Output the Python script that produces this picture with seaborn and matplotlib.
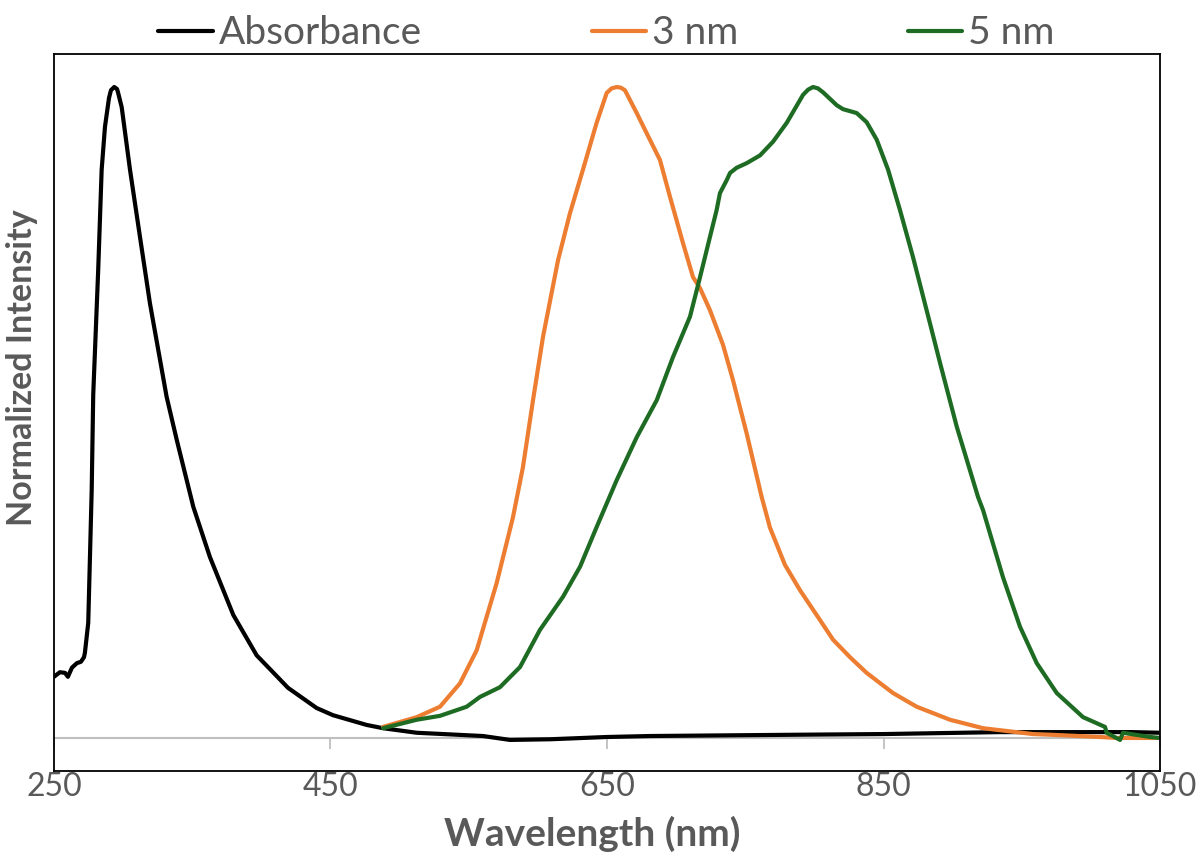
import numpy as np
import pandas as pd
import matplotlib
matplotlib.use("Agg")
import matplotlib.pyplot as plt
import seaborn as sns

# values (normalized intensity)
abs_wl = [250, 254.3, 258, 260.1, 263, 266.6, 269.5, 271.7, 272.4, 274.8, 277.3, 278.4,
          282, 284.5, 286.9, 289.8, 291.2, 293.6, 295.6, 296.3, 299, 305, 312.2, 319.4, 331.5,
          338.8, 350.8, 362.8, 379.7, 396.6, 419.3, 440, 451.8, 476.2, 488, 512.4, 560.3,
          579.8, 608.8, 649.8, 681, 789.6, 849.6, 934, 1030, 1050]
abs_val = [0.094, 0.101, 0.100, 0.094, 0.108, 0.115, 0.117, 0.124, 0.131, 0.177, 0.381, 0.527,
           0.719, 0.873, 0.939, 0.983, 0.995, 1.0, 0.997, 0.992, 0.969, 0.873, 0.770, 0.668, 0.524,
           0.458, 0.355, 0.278, 0.189, 0.127, 0.077, 0.046, 0.035, 0.020, 0.015, 0.008, 0.003,
           -0.003, -0.002, 0.0015, 0.003, 0.005, 0.006, 0.009, 0.009, 0.008]

nm3_wl = [488, 512.4, 529.2, 543.7, 555.8, 570.2, 582, 589.2, 596.5, 603.7, 614.6, 623.2,
          632.6, 642.5, 649.8, 653.4, 657, 660, 663, 671.5, 678.7, 688.3, 695.6, 705, 712.2,
          717.3, 724.5, 733.9, 741.1, 751, 761.9, 767.9, 778.7, 789.6, 804.1, 813.5, 825.8,
          837.8, 856.9, 874, 898.1, 922, 958.1, 970.4, 1006.6, 1018.9, 1050]
nm3_val = [0.017, 0.032, 0.048, 0.084, 0.135, 0.238, 0.339, 0.416, 0.519, 0.616, 0.734, 0.806,
           0.873, 0.945, 0.991, 0.998, 1.0, 0.999, 0.995, 0.960, 0.929, 0.888, 0.831, 0.760, 0.708,
           0.691, 0.657, 0.604, 0.550, 0.468, 0.370, 0.323, 0.266, 0.227, 0.181, 0.151, 0.124,
           0.100, 0.069, 0.048, 0.028, 0.015, 0.006, 0.005, 0.0015, 0.0, 0.0]

nm5_wl = [488, 512.4, 529.2, 548.5, 558.1, 572.6, 587.1, 601.5, 618.2, 630.5, 642.5, 657,
          671.5, 686, 697.7, 710, 717.3, 724.5, 729.3, 731.7, 736.6, 739, 743.8, 751, 760.7,
          770.1, 780, 791.8, 795.5, 799, 802.5, 806.2, 816.2, 820.7, 830.6, 837.8, 845.1,
          853.3, 861.9, 871.3, 883.6, 890.9, 903, 918.4, 922, 936.4, 948.7, 960.8, 975.3,
          994.3, 1010.2, 1011.4, 1021.1, 1023.2, 1042.8, 1050]
nm5_val = [0.015, 0.028, 0.034, 0.048, 0.063, 0.078, 0.109, 0.166, 0.217, 0.263, 0.324, 0.396,
           0.462, 0.519, 0.585, 0.647, 0.708, 0.770, 0.811, 0.837, 0.857, 0.868, 0.876, 0.883, 0.895,
           0.916, 0.945, 0.988, 0.996, 1.0, 0.998, 0.992, 0.972, 0.966, 0.960, 0.946, 0.919,
           0.873, 0.811, 0.739, 0.637, 0.576, 0.478, 0.370, 0.350, 0.247, 0.171, 0.115, 0.069,
           0.032, 0.017, 0.008, -0.003, 0.008, 0.0015, 0.0]

x_ticks = [250, 450, 650, 850, 1050]

grey = "#595959"
sns.set_style("white")
plt.rcParams['font.family'] = ['Lato', 'DejaVu Sans']

df = pd.concat([
    pd.DataFrame({"wl": abs_wl, "val": abs_val, "series": "Absorbance"}),
    pd.DataFrame({"wl": nm3_wl, "val": nm3_val, "series": "3 nm"}),
    pd.DataFrame({"wl": nm5_wl, "val": nm5_val, "series": "5 nm"}),
])
colors = {"Absorbance": "#000000", "3 nm": "#ED7D31", "5 nm": "#1E6B23"}

fig = plt.figure(figsize=(11.99, 8.52), dpi=100)
ax = fig.add_axes([0.045, 0.0951, 0.9225, 0.8415])

sns.lineplot(data=df, x="wl", y="val", hue="series", palette=colors,
             estimator=None, sort=False, linewidth=3, ax=ax)
for line in ax.lines:
    line.set_solid_joinstyle('round')

ymin, ymax = -0.0507, 1.0507
ax.set_xlim(250, 1050)
ax.set_ylim(ymin, ymax)
ax.set_yticks([])
ax.set_xticks(x_ticks)
ax.tick_params(axis='x', length=0, pad=0.5, labelsize=23, labelcolor=grey)

for s in ax.spines.values():
    s.set_visible(True)
    s.set_color("black")
    s.set_linewidth(1.3)

# grey category axis at zero, with its tick marks
zero_loc = (0 - ymin) / (ymax - ymin)
sec = ax.secondary_xaxis(zero_loc)
sec.set_xticks(x_ticks)
sec.tick_params(axis='x', direction='out', length=8, width=1.3, color="#BFBFBF",
                labelbottom=False)
sec.spines['bottom'].set_color("#BFBFBF")
sec.spines['bottom'].set_linewidth(1.5)

ax.set_xlabel("Wavelength (nm)", fontsize=28, fontweight='bold', color=grey, va='center')
ax.xaxis.set_label_coords(0.487, -0.088)
ax.set_ylabel("Normalized Intensity", fontsize=24.5, fontweight='bold', color=grey, va='center')
ax.yaxis.set_label_coords(-0.029, 0.562)

leg = ax.legend(loc='center', bbox_to_anchor=(0.4995, 1.029), ncol=3, frameon=False,
                fontsize=28, handlelength=1.4, handletextpad=0.15, columnspacing=4.37,
                borderaxespad=0)
for t in leg.get_texts():
    t.set_color(grey)
for h in leg.legend_handles:
    h.set_linewidth(3)

fig.savefig("out.png", dpi=100)
